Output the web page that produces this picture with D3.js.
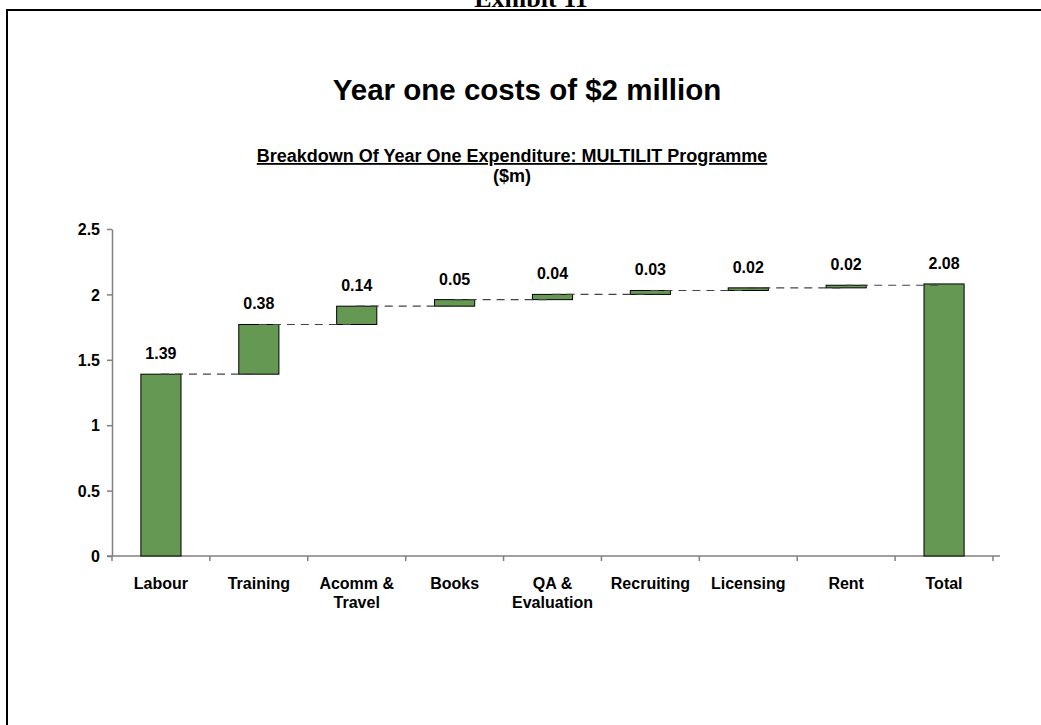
<!DOCTYPE html>
<html>
<head>
<meta charset="utf-8">
<script src="https://cdn.jsdelivr.net/npm/d3@7"></script>
<style>
  html, body { margin: 0; padding: 0; background: #fff; }
  svg { display: block; }
</style>
</head>
<body>
<svg id="chart" width="1041" height="725"></svg>
<script>
// Waterfall of year one expenditure ($m)
const categories = ["Labour", "Training", "Acomm &\nTravel", "Books", "QA &\nEvaluation", "Recruiting", "Licensing", "Rent", "Total"];
const values = [1.39, 0.38, 0.14, 0.05, 0.04, 0.03, 0.02, 0.02, 2.08];
const yTicks = [0, 0.5, 1, 1.5, 2, 2.5];
const valueLabels = ["1.39", "0.38", "0.14", "0.05", "0.04", "0.03", "0.02", "0.02", "2.08"];

const svg = d3.select("#chart");
const font = "Arial, 'Liberation Sans', sans-serif";
const labelSize = 16;

// Page frame and exhibit heading
svg.append("text")
  .attr("x", 531).attr("y", 7)
  .attr("text-anchor", "middle")
  .attr("font-family", "'Liberation Serif', 'Times New Roman', serif")
  .attr("font-weight", "bold").attr("font-size", 26)
  .text("Exhibit 11");
svg.append("path")
  .attr("d", "M7,725 V10 H1041")
  .attr("fill", "none").attr("stroke", "#000").attr("stroke-width", 2);

// Titles
svg.append("text")
  .attr("x", 527).attr("y", 100)
  .attr("text-anchor", "middle")
  .attr("font-family", font).attr("font-weight", "bold").attr("font-size", 29.5)
  .text("Year one costs of $2 million");
svg.append("text")
  .attr("x", 512).attr("y", 162)
  .attr("text-anchor", "middle")
  .attr("font-family", font).attr("font-weight", "bold").attr("font-size", 18)
  .attr("text-decoration", "underline")
  .text("Breakdown Of Year One Expenditure: MULTILIT Programme");
svg.append("text")
  .attr("x", 512).attr("y", 182)
  .attr("text-anchor", "middle")
  .attr("font-family", font).attr("font-weight", "bold").attr("font-size", 18)
  .text("($m)");

// Scales
const x = d3.scaleBand().domain(categories).range([112, 993]).paddingInner(0.59).paddingOuter(0.295);
const y = d3.scaleLinear().domain([0, 2.5]).range([556, 229]);

// Floating bar extents
const last = values.length - 1;
let run = 0;
const bars = values.map((v, i) => {
  if (i === last) return { cat: categories[i], lo: 0, hi: v, label: valueLabels[i] };
  const b = { cat: categories[i], lo: run, hi: run + v, label: valueLabels[i] };
  run += v;
  return b;
});

// Axes
const axisColor = "#808080";
const yAxis = svg.append("g").attr("transform", "translate(112,0)")
  .call(d3.axisLeft(y).tickValues(yTicks).tickSize(5).tickSizeOuter(0).tickFormat(d3.format("")));
yAxis.select(".domain").attr("stroke", axisColor).attr("stroke-width", 1.5);
yAxis.selectAll(".tick line").attr("stroke", axisColor).attr("stroke-width", 1.5);
yAxis.selectAll(".tick text")
  .attr("x", -12).attr("dy", "0.35em")
  .attr("font-family", font).attr("font-weight", "bold").attr("font-size", labelSize).attr("fill", "#000");

const xAxisG = svg.append("g");
xAxisG.append("line")
  .attr("x1", 107).attr("x2", 1000).attr("y1", 556).attr("y2", 556)
  .attr("stroke", axisColor).attr("stroke-width", 1.5);
const step = x.step();
const boundaries = d3.range(categories.length + 1).map(i => x.range()[0] + i * step);
xAxisG.selectAll(".xt").data(boundaries).enter().append("line")
  .attr("x1", d => d).attr("x2", d => d)
  .attr("y1", 556).attr("y2", 561)
  .attr("stroke", axisColor).attr("stroke-width", 1.5);

const xl = xAxisG.selectAll(".xl").data(categories).enter().append("text")
  .attr("x", d => x(d) + x.bandwidth() / 2)
  .attr("y", 589)
  .attr("text-anchor", "middle")
  .attr("font-family", font).attr("font-weight", "bold").attr("font-size", labelSize);
xl.each(function (d) {
  const lines = d.split("\n");
  d3.select(this).selectAll("tspan").data(lines).enter().append("tspan")
    .attr("x", x(d) + x.bandwidth() / 2)
    .attr("dy", (l, j) => j === 0 ? 0 : 19)
    .text(l => l);
});

// Connector lines at running totals
const connectors = bars.slice(0, last).map((b, i) => ({
  x1: x(b.cat) + x.bandwidth() / 2,
  x2: x(categories[i + 1]) + x.bandwidth() / 2,
  v: b.hi
}));

// Bars
svg.append("g").selectAll("rect").data(bars).enter().append("rect")
  .attr("x", d => x(d.cat))
  .attr("width", x.bandwidth())
  .attr("y", d => y(d.hi))
  .attr("height", d => y(d.lo) - y(d.hi))
  .attr("fill", "#659852")
  .attr("stroke", "#000").attr("stroke-width", 1);

svg.append("g").selectAll("line").data(connectors).enter().append("line")
  .attr("x1", d => d.x1).attr("x2", d => d.x2)
  .attr("y1", d => y(d.v)).attr("y2", d => y(d.v))
  .attr("stroke", "#444").attr("stroke-width", 1.2).attr("stroke-dasharray", "8,6");

// Value labels
svg.append("g").selectAll("text").data(bars).enter().append("text")
  .attr("x", d => x(d.cat) + x.bandwidth() / 2)
  .attr("y", d => y(d.hi) - 15)
  .attr("text-anchor", "middle")
  .attr("font-family", font).attr("font-weight", "bold").attr("font-size", labelSize)
  .text(d => d.label);
</script>
</body>
</html>
